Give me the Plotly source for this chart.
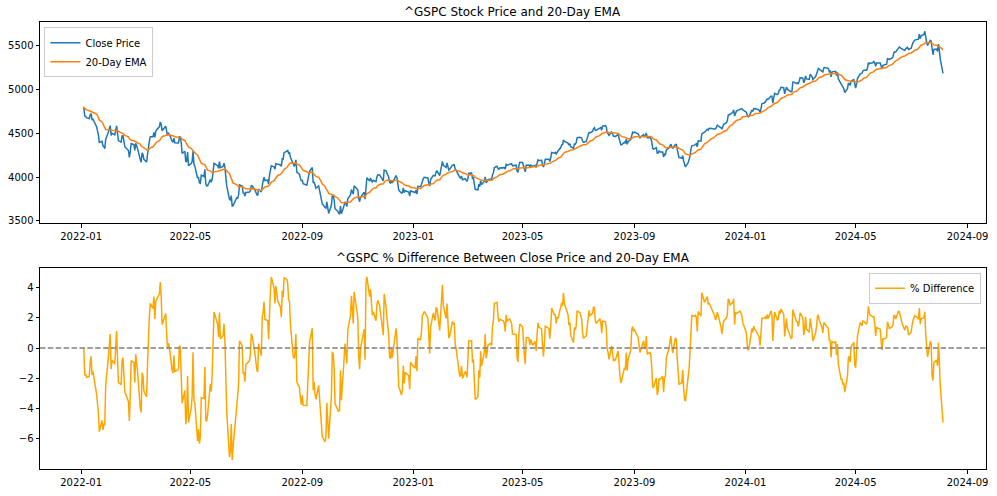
import pandas as pd
import plotly.graph_objects as go

ticker = "^GSPC"
ema_span = 20

# NYSE holidays inside the period (trading calendar)
holidays = [
    "2022-01-17", "2022-02-21", "2022-04-15", "2022-05-30", "2022-06-20", "2022-07-04",
    "2022-09-05", "2022-11-24", "2022-12-26",
    "2023-01-02", "2023-01-16", "2023-02-20", "2023-04-07", "2023-05-29", "2023-06-19",
    "2023-07-04", "2023-09-04", "2023-11-23", "2023-12-25",
    "2024-01-01", "2024-01-15", "2024-02-19", "2024-03-29", "2024-05-27", "2024-06-19",
    "2024-07-04",
]

close_2022 = [
    4796.56, 4793.54, 4700.58, 4696.05, 4677.03, 4670.29, 4713.07, 4726.35, 4659.03, 4662.85,
    4577.11, 4532.76, 4482.73, 4397.94, 4410.13, 4356.45, 4349.93, 4326.51, 4431.85, 4515.55,
    4546.54, 4589.38, 4477.44, 4500.53, 4483.87, 4521.54, 4587.18, 4504.08, 4418.64, 4401.67,
    4471.07, 4475.01, 4380.26, 4348.87, 4304.76, 4225.50, 4288.70, 4384.65, 4373.94,
    4306.26, 4386.54, 4363.49, 4328.87, 4201.09, 4170.70, 4277.88, 4259.52, 4204.31, 4173.11,
    4262.45, 4357.86, 4411.67, 4463.12, 4461.18, 4511.61, 4456.24, 4520.16, 4543.06, 4575.52,
    4631.60, 4602.45, 4530.41,
    4545.86, 4582.64, 4525.12, 4481.15, 4500.21, 4488.28, 4412.53, 4397.45, 4446.59, 4392.59,
    4391.69, 4462.21, 4459.45, 4393.66, 4271.78, 4296.12, 4175.20, 4183.96, 4287.50, 4131.93,
    4155.38, 4175.48, 4300.17, 4146.87, 4123.34, 3991.24, 4001.05, 3935.18, 3930.08, 4023.89,
    4008.01, 4088.85, 3923.68, 3900.79, 3901.36, 3973.75, 3941.48, 3978.73, 4057.84, 4158.24,
    4132.15,
    4101.23, 4176.82, 4108.54, 4121.43, 4160.68, 4115.77, 4017.82, 3900.86, 3749.63, 3735.48,
    3789.99, 3666.77, 3674.84, 3764.79, 3759.89, 3795.73, 3911.74, 3900.11, 3821.55, 3818.83,
    3785.38,
    3825.33, 3831.39, 3845.08, 3902.62, 3899.38, 3854.43, 3818.80, 3801.78, 3790.38, 3863.16,
    3830.85, 3936.69, 3959.90, 3998.95, 3961.63, 3966.84, 3921.05, 4023.61, 4072.43, 4130.29,
    4118.63, 4091.19, 4155.17, 4151.94, 4145.19, 4140.06, 4122.47, 4210.24, 4207.27, 4280.15,
    4297.14, 4305.20, 4274.04, 4283.74, 4228.48, 4137.99, 4128.73, 4140.77, 4199.12, 4057.66,
    4030.61, 3986.16, 3955.00,
    3966.85, 3924.26, 3908.19, 3979.87, 4006.18, 4067.36, 4110.41, 3932.69, 3946.01, 3901.35,
    3873.33, 3899.89, 3855.93, 3789.93, 3757.99, 3693.23, 3655.04, 3647.29, 3719.04, 3640.47,
    3585.62,
    3678.43, 3790.93, 3783.28, 3744.52, 3639.66, 3612.39, 3588.84, 3577.03, 3669.91, 3583.07,
    3677.95, 3719.98, 3695.16, 3665.78, 3752.75, 3797.34, 3859.11, 3830.60, 3807.30, 3901.06,
    3871.98,
    3856.10, 3759.69, 3719.89, 3770.55, 3806.80, 3828.11, 3748.57, 3956.37, 3992.93, 3957.25,
    3991.73, 3958.79, 3946.56, 3965.34, 3949.94, 4003.58, 4027.26, 4026.12, 3963.94, 3957.63,
    4080.11,
    4076.57, 4071.70, 3998.84, 3941.26, 3933.92, 3963.51, 3934.38, 3990.56, 4019.65, 3995.32,
    3895.75, 3852.36, 3817.66, 3821.62, 3878.44, 3822.39, 3844.82, 3829.25, 3783.22, 3849.28,
    3839.50,
]

close_2023 = [
    3824.14, 3852.97, 3808.10, 3895.08, 3892.09, 3919.25, 3969.61, 3983.17, 3999.09, 3990.97,
    3928.86, 3898.85, 3972.61, 4019.81, 4016.95, 4016.22, 4060.43, 4070.56, 4017.77, 4076.60,
    4119.21, 4179.76, 4136.48, 4111.08, 4164.00, 4117.86, 4081.50, 4090.46, 4137.29, 4136.13,
    4147.60, 4090.41, 4079.09, 3997.34, 3991.05, 4012.32, 3970.04, 3982.24, 3970.15,
    3951.39, 3981.35, 4045.64, 4048.42, 3986.37, 3992.01, 3918.32, 3861.59, 3855.76, 3919.29,
    3891.93, 3960.28, 3916.64, 3951.57, 4002.87, 3936.97, 3948.72, 3970.99, 3977.53, 3971.27,
    4027.81, 4050.83, 4109.31,
    4124.51, 4100.60, 4090.38, 4105.02, 4109.11, 4108.94, 4091.95, 4146.22, 4137.64, 4151.32,
    4154.87, 4154.52, 4129.79, 4133.52, 4137.04, 4071.63, 4055.99, 4135.35, 4169.48,
    4167.87, 4119.58, 4090.75, 4061.22, 4136.25, 4138.12, 4119.17, 4137.64, 4130.62, 4124.08,
    4136.28, 4109.90, 4158.77, 4198.05, 4191.98, 4192.63, 4145.58, 4115.24, 4151.28, 4205.45,
    4205.52, 4179.83,
    4221.02, 4282.37, 4273.79, 4283.85, 4267.52, 4293.93, 4298.86, 4338.93, 4369.01, 4372.59,
    4425.84, 4409.59, 4388.71, 4365.69, 4381.89, 4348.33, 4328.82, 4378.41, 4376.86, 4396.44,
    4450.38,
    4455.59, 4446.82, 4411.59, 4398.95, 4409.53, 4439.26, 4472.16, 4510.04, 4505.42, 4522.79,
    4554.98, 4565.72, 4534.87, 4536.34, 4554.64, 4567.46, 4566.75, 4537.41, 4582.23, 4588.96,
    4576.73, 4513.39, 4501.89, 4478.03, 4518.44, 4499.38, 4467.71, 4468.83, 4464.05, 4489.72,
    4437.86, 4404.33, 4370.36, 4369.71, 4399.77, 4387.55, 4436.01, 4376.31, 4405.71, 4433.31,
    4497.63, 4514.87, 4507.66,
    4515.77, 4496.83, 4465.48, 4451.14, 4457.49, 4487.46, 4461.90, 4467.44, 4505.10, 4450.32,
    4453.53, 4443.95, 4402.20, 4330.00, 4320.06, 4337.44, 4273.53, 4274.51, 4299.70, 4288.05,
    4288.39, 4229.45, 4263.75, 4258.19, 4308.50, 4335.66, 4358.24, 4376.95, 4349.61, 4327.78,
    4373.63, 4373.20, 4314.60, 4278.00, 4224.16, 4217.04, 4247.68, 4186.77, 4137.23, 4117.37,
    4166.82, 4193.80,
    4237.86, 4317.78, 4358.34, 4365.98, 4378.38, 4382.78, 4347.35, 4415.24, 4411.55, 4495.70,
    4502.88, 4508.24, 4514.02, 4547.38, 4538.19, 4556.62, 4559.34, 4550.43, 4554.89, 4550.58,
    4567.80,
    4594.63, 4569.78, 4567.18, 4549.34, 4585.59, 4604.37, 4622.44, 4643.70, 4707.09, 4719.55,
    4719.19, 4740.56, 4768.37, 4698.35, 4746.75, 4754.63, 4774.75, 4781.58, 4783.35, 4769.83,
]

close_2024 = [
    4742.83, 4704.81, 4688.68, 4697.24, 4763.54, 4756.50, 4783.45, 4780.24, 4783.83, 4765.98,
    4739.21, 4780.94, 4839.81, 4850.43, 4864.60, 4868.55, 4894.16, 4890.97, 4927.93, 4924.97,
    4845.65,
    4906.19, 4958.61, 4942.81, 4954.23, 4995.06, 4997.91, 5026.61, 5021.84, 4953.17, 5000.62,
    5029.73, 5005.57, 4975.51, 4981.80, 5087.03, 5088.80, 5069.53, 5078.18, 5069.76, 5096.27,
    5137.08, 5130.95, 5078.65, 5104.76, 5157.36, 5123.69, 5117.94, 5175.27, 5165.31, 5150.48,
    5117.09, 5149.42, 5178.51, 5224.62, 5241.53, 5234.18, 5218.19, 5203.58, 5248.49, 5254.35,
    5243.77, 5205.81, 5211.49, 5147.21, 5204.34, 5202.39, 5209.91, 5160.64, 5199.06, 5123.41,
    5061.82, 5051.41, 5022.21, 5011.12, 4967.23, 5010.60, 5070.55, 5071.63, 5048.42, 5099.96,
    5116.17, 5035.69,
    5018.39, 5064.20, 5127.79, 5180.74, 5187.70, 5187.67, 5214.08, 5222.68, 5221.42, 5246.68,
    5308.15, 5297.10, 5303.27, 5308.13, 5321.41, 5307.01, 5267.84, 5304.72, 5306.04, 5266.95,
    5235.48, 5277.51,
    5283.40, 5291.34, 5354.03, 5352.96, 5346.99, 5360.79, 5375.32, 5421.03, 5433.74, 5431.60,
    5473.23, 5487.03, 5473.17, 5464.62, 5447.87, 5469.30, 5477.90, 5482.87, 5460.48,
    5475.09, 5509.01, 5537.02, 5567.19, 5572.85, 5576.98, 5633.91, 5584.54, 5615.35, 5631.22,
    5667.20, 5588.27, 5544.59, 5505.00, 5564.41, 5555.74, 5427.13, 5399.22, 5459.10, 5463.54,
    5436.44, 5522.30,
    5446.68, 5346.56, 5186.33,
]

x_tick_dates = ["2022-01-01", "2022-05-01", "2022-09-01", "2023-01-01", "2023-05-01",
                "2023-09-01", "2024-01-01", "2024-05-01", "2024-09-01"]
top_y_ticks = [3500, 4000, 4500, 5000, 5500]
bottom_y_ticks = [-6, -4, -2, 0, 2, 4]

# ---------------- derived series ----------------
hol = set(holidays)
dates = [d for d in pd.bdate_range("2022-01-03", "2024-08-05") if d.strftime("%Y-%m-%d") not in hol]
values = close_2022 + close_2023 + close_2024
n = min(len(dates), len(values))
close = pd.Series(values[:n], index=pd.DatetimeIndex(dates[:n]))
ema = close.ewm(span=ema_span, adjust=False).mean()
pct = (close - ema) / ema * 100

# matplotlib-like 5% margins
x0, x1 = close.index[0], close.index[-1]
dx = (x1 - x0) * 0.05
xr = [x0 - dx, x1 + dx]
lo = min(close.min(), ema.min()); hi = max(close.max(), ema.max())
yr_top = [lo - (hi - lo) * 0.05, hi + (hi - lo) * 0.05]
plo, phi = pct.min(), pct.max()
yr_bot = [plo - (phi - plo) * 0.05, phi + (phi - plo) * 0.05]

W, H = 997, 496
FONT = "DejaVu Sans"

fig = go.Figure()
fig.add_trace(go.Scatter(x=close.index, y=close.values, mode="lines", name="Close Price",
                         line=dict(color="#1f77b4", width=1.5), xaxis="x", yaxis="y", legend="legend"))
fig.add_trace(go.Scatter(x=ema.index, y=ema.values, mode="lines", name=f"{ema_span}-Day EMA",
                         line=dict(color="#ff7f0e", width=1.5), xaxis="x", yaxis="y", legend="legend"))
fig.add_trace(go.Scatter(x=pct.index, y=pct.values, mode="lines", name="% Difference",
                         line=dict(color="#FFA500", width=1.5), xaxis="x2", yaxis="y2", legend="legend2"))

axis_common = dict(showline=True, linecolor="black", linewidth=0.8, mirror=True,
                   ticks="outside", ticklen=3.5, tickwidth=0.8, tickcolor="black",
                   showgrid=False, zeroline=False,
                   tickfont=dict(family=FONT, size=10, color="black"))

xd = [40 / W, 988 / W]
fig.update_layout(
    width=W, height=H, margin=dict(l=0, r=0, t=0, b=0),
    paper_bgcolor="white", plot_bgcolor="white",
    font=dict(family=FONT, size=10, color="black"),
    xaxis=dict(domain=xd, range=xr, anchor="y", tickvals=x_tick_dates,
               ticktext=[d[:7] for d in x_tick_dates], **axis_common),
    yaxis=dict(domain=[1 - 224.7 / H, 1 - 22.3 / H], range=yr_top, anchor="x",
               tickvals=top_y_ticks, **axis_common),
    xaxis2=dict(domain=xd, range=xr, anchor="y2", tickvals=x_tick_dates,
                ticktext=[d[:7] for d in x_tick_dates], **axis_common),
    yaxis2=dict(domain=[1 - 472 / H, 1 - 269.3 / H], range=yr_bot, anchor="x2",
                tickvals=bottom_y_ticks, **axis_common),
    legend=dict(x=44.5 / W, y=1 - 27.5 / H, xanchor="left", yanchor="top",
                bgcolor="rgba(255,255,255,0.8)", bordercolor="#cccccc", borderwidth=1,
                font=dict(family=FONT, size=10, color="black"), tracegroupgap=0,
                itemwidth=30),
    legend2=dict(x=983 / W, y=1 - 274.5 / H, xanchor="right", yanchor="top",
                 bgcolor="rgba(255,255,255,0.8)", bordercolor="#cccccc", borderwidth=1,
                 font=dict(family=FONT, size=10, color="black"), itemwidth=30),
    showlegend=True,
)

fig.add_shape(type="line", xref="x2 domain", yref="y2", x0=0, x1=1, y0=0, y1=0,
              line=dict(color="gray", width=1.5, dash="5.5px,2.4px"))

fig.add_annotation(text=f"{ticker} Stock Price and {ema_span}-Day EMA", xref="paper", yref="paper",
                   x=(xd[0] + xd[1]) / 2, y=1 - 12.5 / H, xanchor="center", yanchor="middle",
                   showarrow=False, font=dict(family=FONT, size=12, color="black"))
fig.add_annotation(text=f"{ticker} % Difference Between Close Price and {ema_span}-Day EMA",
                   xref="paper", yref="paper",
                   x=(xd[0] + xd[1]) / 2, y=1 - 259.5 / H, xanchor="center", yanchor="middle",
                   showarrow=False, font=dict(family=FONT, size=12, color="black"))

fig.write_html("out.html")
